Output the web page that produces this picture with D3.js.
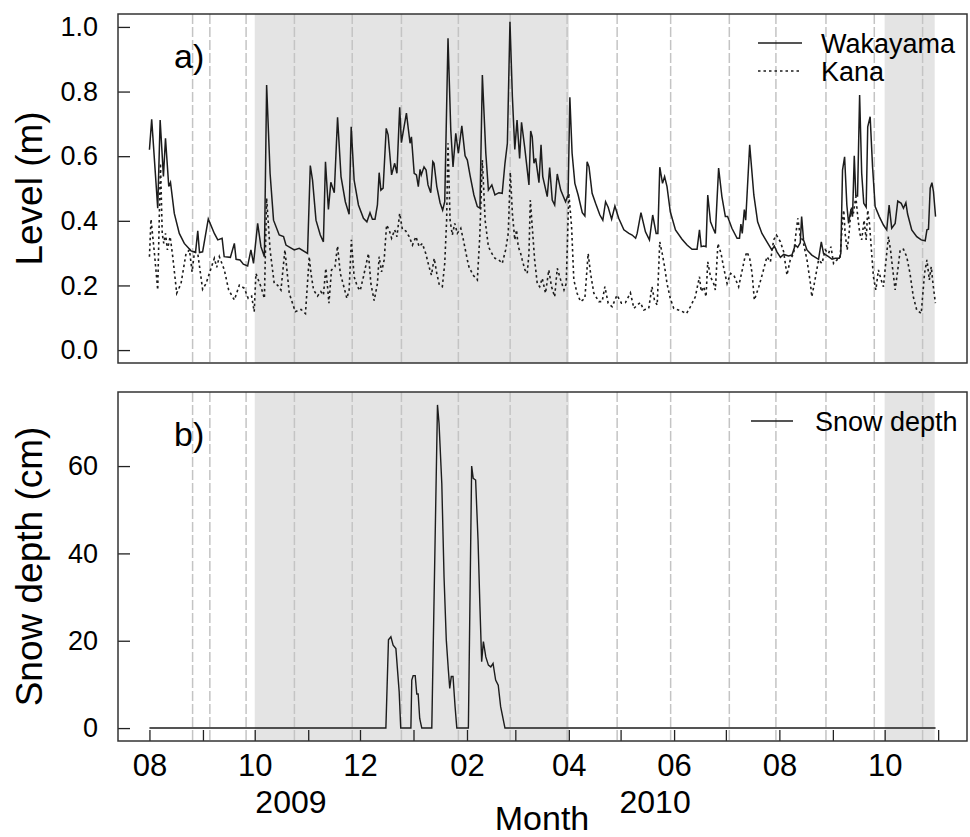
<!DOCTYPE html>
<html>
<head>
<meta charset="UTF-8">
<style>
  body { margin: 0; background: #fff; }
  svg { font-family: "Liberation Sans", Arial, Helvetica, sans-serif; }
</style>
</head>
<body>
<svg width="970" height="837"></svg>
<script src="https://d3js.org/d3.v7.min.js"></script>
<script>

// day counts from 2009-08-01
const t0 = Date.UTC(2009, 7, 1);

// water level (m)
const wakayama = [[0,0.62],[1.3,0.714],[4.8,0.439],[6.2,0.712],[8.1,0.537],[9.3,0.655],[11.2,0.506],[12.2,0.519],[14.4,0.423],[17.3,0.361],[20.2,0.33],[24.1,0.307],[26.7,0.302],[28,0.369],[29,0.302],[30.8,0.304],[34.1,0.406],[37.6,0.361],[39.6,0.341],[42.1,0.346],[43.3,0.289],[46.9,0.287],[49.2,0.33],[50.2,0.281],[52.5,0.279],[54.4,0.266],[56.9,0.26],[58.8,0.31],[60.3,0.268],[62.7,0.392],[64.6,0.32],[66.6,0.289],[67.9,0.82],[69.9,0.547],[71.9,0.402],[75.2,0.356],[77.7,0.351],[79.1,0.325],[83.9,0.31],[86.8,0.315],[91.6,0.299],[93.2,0.571],[94.5,0.526],[96.5,0.402],[99,0.356],[100.8,0.335],[102,0.583],[103.7,0.435],[105.1,0.519],[107.1,0.487],[109,0.72],[111,0.537],[113.5,0.459],[115.7,0.42],[116.9,0.691],[118.6,0.526],[121.1,0.449],[124,0.408],[126,0.397],[127.8,0.425],[129.2,0.405],[130.7,0.405],[132.1,0.449],[133.1,0.549],[134.1,0.495],[135.4,0.501],[137.2,0.686],[138.3,0.666],[140.3,0.542],[142.1,0.578],[143.4,0.547],[145,0.751],[146,0.642],[147.2,0.681],[148.9,0.733],[151,0.64],[151.8,0.66],[153.4,0.547],[154.7,0.542],[155.8,0.506],[156.8,0.559],[157.5,0.542],[159.1,0.567],[160.3,0.557],[161.4,0.511],[163,0.487],[164.2,0.583],[164.9,0.578],[166.5,0.506],[168.4,0.456],[169.9,0.433],[171.1,0.459],[173,0.965],[174.6,0.681],[175.9,0.567],[177.5,0.671],[179,0.609],[181,0.694],[182.9,0.601],[184.2,0.588],[185.8,0.54],[188,0.48],[190,0.444],[191.5,0.439],[192.9,0.851],[194.9,0.609],[196.4,0.495],[198.4,0.511],[200.2,0.48],[202.5,0.487],[204.4,0.485],[206,0.578],[207.4,0.64],[208.9,1.016],[210.3,0.784],[211.7,0.621],[213,0.712],[214.5,0.593],[215.6,0.705],[217.4,0.629],[219.9,0.511],[220.9,0.678],[221.8,0.66],[222.8,0.578],[223.8,0.593],[225.7,0.518],[226.9,0.635],[227.9,0.537],[230.5,0.475],[231.9,0.565],[233.4,0.464],[234.8,0.449],[236.3,0.545],[238.3,0.495],[241.1,0.459],[242.6,0.48],[243.6,0.782],[244.9,0.609],[246.5,0.516],[248.4,0.48],[250.8,0.425],[252.3,0.415],[253.6,0.583],[254.7,0.567],[256.5,0.485],[258.5,0.454],[261,0.418],[262.7,0.402],[264.3,0.459],[265.8,0.442],[267.8,0.405],[269.7,0.446],[271.9,0.408],[274.9,0.372],[277.8,0.361],[279.7,0.356],[281.7,0.346],[282.6,0.361],[284.8,0.425],[287.4,0.366],[289.7,0.341],[291.6,0.418],[293.6,0.361],[294.6,0.361],[295.7,0.566],[297.3,0.516],[298.5,0.537],[299.9,0.506],[301.8,0.428],[304.8,0.372],[308.6,0.343],[311.5,0.325],[314.4,0.312],[317.3,0.312],[318.7,0.372],[319.7,0.32],[321.2,0.322],[322.5,0.32],[323.5,0.48],[325.1,0.397],[326.6,0.377],[327.9,0.361],[329.8,0.563],[331.7,0.475],[333.7,0.413],[335,0.413],[337.5,0.377],[340.5,0.346],[341.9,0.346],[342.7,0.39],[343.5,0.361],[344.7,0.435],[345.5,0.402],[347.8,0.635],[350.2,0.48],[352.4,0.397],[354.9,0.361],[357.8,0.335],[360.6,0.31],[362.1,0.322],[363.6,0.304],[365.6,0.287],[367.5,0.296],[370.3,0.291],[372.3,0.294],[374.2,0.325],[375.6,0.318],[377.1,0.332],[377.9,0.413],[379,0.341],[381,0.31],[383.8,0.294],[387.7,0.281],[389.3,0.335],[390.6,0.299],[393.5,0.289],[395.5,0.281],[397.4,0.284],[399.7,0.284],[400.6,0.299],[401.6,0.557],[402.8,0.598],[404.1,0.449],[405.1,0.392],[406.4,0.433],[407.4,0.413],[408.4,0.601],[409.3,0.477],[410.3,0.477],[411.5,0.789],[412.7,0.547],[413.9,0.454],[415.3,0.442],[416.2,0.691],[417.6,0.722],[419,0.567],[420.5,0.444],[422.9,0.413],[425.3,0.387],[427.2,0.372],[428.6,0.449],[430.1,0.377],[432.1,0.392],[433.6,0.461],[435.6,0.454],[436.9,0.439],[438.3,0.456],[439.3,0.421],[441.7,0.372],[444.6,0.351],[447.2,0.341],[449.5,0.338],[450.5,0.372],[451.4,0.374],[452.4,0.501],[453.4,0.518],[454.3,0.49],[455.5,0.413]];

const kana = [[0,0.289],[0.9,0.405],[2.9,0.299],[4.8,0.186],[5.8,0.433],[6.4,0.578],[7.4,0.361],[8.3,0.33],[9.3,0.361],[10.4,0.31],[12,0.351],[13.5,0.289],[15.8,0.176],[18.3,0.206],[21.2,0.299],[23.2,0.31],[24.7,0.242],[26.1,0.304],[28,0.299],[30.8,0.188],[32.8,0.206],[34.7,0.237],[37.6,0.284],[39,0.256],[40.5,0.289],[43.4,0.248],[45.9,0.186],[49.2,0.155],[52.1,0.201],[55,0.191],[57.2,0.16],[59.2,0.167],[60.7,0.119],[61.7,0.237],[63.1,0.217],[64.6,0.196],[66.6,0.16],[67.9,0.47],[69.9,0.31],[72.3,0.206],[74.2,0.201],[76.2,0.186],[78.5,0.31],[81,0.176],[84.5,0.119],[87.8,0.126],[90.4,0.113],[92.6,0.289],[93.6,0.237],[95.1,0.186],[97.4,0.167],[99.3,0.181],[100.8,0.17],[102.2,0.253],[103.2,0.196],[104,0.145],[105.5,0.248],[107.5,0.258],[109,0.322],[110.6,0.237],[112.9,0.191],[114.4,0.16],[115.7,0.186],[117,0.341],[118.6,0.227],[120.5,0.196],[122.1,0.184],[124,0.227],[126.9,0.299],[128.3,0.206],[130.2,0.153],[132.1,0.206],[133.1,0.289],[134.5,0.242],[136,0.279],[137.4,0.387],[138.9,0.372],[140.3,0.346],[142.1,0.372],[143.4,0.351],[145,0.423],[146.6,0.372],[148.5,0.369],[150.5,0.351],[152.4,0.325],[154.4,0.351],[156.3,0.32],[158.1,0.33],[160.1,0.299],[162,0.258],[163.4,0.232],[165,0.284],[166.5,0.237],[168,0.201],[169.7,0.196],[171.1,0.268],[172.2,0.402],[173,0.64],[174.2,0.402],[175.5,0.356],[176.9,0.392],[178.4,0.361],[180.4,0.377],[181.9,0.341],[184.2,0.279],[185.1,0.258],[187.5,0.232],[190,0.217],[191.4,0.351],[192.9,0.588],[194.5,0.402],[196.4,0.32],[198.4,0.299],[200.2,0.284],[202.5,0.279],[204.4,0.268],[206.4,0.31],[207.9,0.361],[209.1,0.55],[210.3,0.423],[211.7,0.341],[212.7,0.372],[213.7,0.32],[215.1,0.299],[216,0.279],[217.6,0.248],[218.9,0.237],[219.9,0.299],[220.7,0.464],[221.8,0.382],[223.2,0.279],[224.7,0.206],[226.1,0.196],[227.6,0.222],[229.5,0.176],[231.4,0.248],[233,0.196],[234.8,0.165],[236.3,0.253],[238.3,0.217],[240.2,0.186],[241.5,0.206],[243,0.485],[244.6,0.382],[245.9,0.217],[247.8,0.176],[249.8,0.15],[252.3,0.16],[254.2,0.299],[255.6,0.237],[257.5,0.176],[260.4,0.15],[262.3,0.15],[263.9,0.196],[265.8,0.145],[268.1,0.134],[270.9,0.17],[273.5,0.145],[275.8,0.147],[278.7,0.177],[280.7,0.129],[282.6,0.139],[284.5,0.147],[286.4,0.124],[289.3,0.129],[291.2,0.196],[292.6,0.155],[294.2,0.139],[295.7,0.335],[297.1,0.299],[298.5,0.258],[299.9,0.206],[301.8,0.16],[303.8,0.129],[307.7,0.122],[311.2,0.113],[313.4,0.134],[316.3,0.165],[318.7,0.227],[319.7,0.181],[321.2,0.196],[322.5,0.165],[323.5,0.273],[325.1,0.227],[326.9,0.206],[327.9,0.186],[329.4,0.33],[331.2,0.299],[332.8,0.253],[334.7,0.206],[336.7,0.237],[338.6,0.232],[341.4,0.196],[343.9,0.258],[344.9,0.284],[346.2,0.304],[347.8,0.284],[349.2,0.237],[350.5,0.155],[353.1,0.196],[355.5,0.242],[357.8,0.289],[359.8,0.273],[361.7,0.341],[363.3,0.356],[365.6,0.335],[367.5,0.304],[369.4,0.232],[371.3,0.279],[373.3,0.299],[374.6,0.361],[375.7,0.408],[377.1,0.351],[378.6,0.34],[381,0.279],[383,0.206],[383.8,0.165],[385.8,0.222],[387.7,0.279],[389.7,0.268],[391.6,0.31],[393.5,0.299],[394.9,0.32],[396.4,0.268],[398.3,0.279],[400.2,0.284],[401.6,0.402],[402.3,0.433],[403.1,0.361],[404.3,0.31],[405.4,0.361],[406.6,0.444],[407.9,0.423],[409.3,0.475],[410.4,0.413],[411.6,0.361],[412.7,0.341],[414.1,0.402],[415.3,0.341],[416.2,0.433],[417.2,0.392],[418.2,0.32],[419.5,0.227],[420.9,0.186],[422.4,0.248],[424,0.217],[425.3,0.196],[426.6,0.268],[428.2,0.351],[429.4,0.31],[430.5,0.258],[432.1,0.186],[433.6,0.248],[435,0.31],[436.9,0.312],[438.8,0.289],[440.7,0.237],[442.6,0.165],[444.6,0.124],[447.2,0.113],[449.1,0.237],[450.5,0.279],[451.9,0.217],[453,0.258],[454,0.206],[455.4,0.145]];

// snow depth (cm)
const snow = [[0,0],[137,0],[138.5,20.2],[139.9,20.9],[141.2,19],[142.8,18.2],[144.7,8.3],[145.6,0],[151.5,0],[152,11],[152.8,12],[154,12],[154.9,7.8],[155.7,7.8],[156.6,2.2],[157.8,0],[163.6,0],[166.9,74],[167.8,69.8],[169.4,56],[170.7,34.6],[172,20.2],[173.2,13.3],[174,9.1],[174.9,11.8],[175.9,11.8],[177.1,4.9],[178.1,0],[184.8,0],[186.7,60],[187.6,57.2],[189,56.8],[190.4,43],[191.5,27.8],[192.5,15.2],[193.5,19.8],[194.9,16.3],[196.4,14.4],[197.8,14],[199.1,14.8],[200.6,11],[202.1,9.8],[203.5,4.9],[206,0],[455.5,0]];

// winter (shaded) periods and sampling days (dashed lines)
const winters = [["2009-10-01", "2010-04-01"], ["2010-10-01", "2010-10-30"]];
const samplingDays = [25, 35, 56, 84, 117.5, 146, 179, 209, 242, 271, 302, 336, 363, 392, 420, 448];

const levelTicks = [0, 0.2, 0.4, 0.6, 0.8, 1.0];
const snowTicks = [0, 20, 40, 60];
const yearLabels = [["2009", 82], ["2010", 293]];

const toDate = d => new Date(t0 + d * 864e5);

const svg = d3.select("svg");
const left = 118, right = 967;
const ink = "#1c1c1c";

// R style 4% padding on the data range
function pad(lo, hi) { const p = (hi - lo) * 0.04; return [lo - p, hi + p]; }

const dExt = pad(0, d3.max(wakayama, d => d[0]));
const x = d3.scaleUtc().domain([toDate(dExt[0]), toDate(dExt[1])]).range([left, right]);

const panels = [
  { top: 14, bottom: 363, domain: pad(0, 1), ticks: levelTicks, fmt: d3.format(".1f"), title: "Level (m)", tag: "a)" },
  { top: 392, bottom: 741, domain: pad(0, d3.max(snow, d => d[1])), ticks: snowTicks, fmt: d3.format("d"), title: "Snow depth (cm)", tag: "b)" }
];

panels.forEach(p => {
  p.y = d3.scaleLinear().domain(p.domain).range([p.bottom, p.top]);
  const g = svg.append("g");
  p.g = g;

  g.selectAll("rect.winter")
    .data(winters)
    .enter()
    .append("rect")
    .attr("x", d => x(new Date(d[0])))
    .attr("width", d => x(new Date(d[1])) - x(new Date(d[0])))
    .attr("y", p.top)
    .attr("height", p.bottom - p.top)
    .attr("fill", "#e4e4e4");

  g.selectAll("line.samp")
    .data(samplingDays)
    .enter()
    .append("line")
    .attr("x1", d => x(toDate(d)))
    .attr("x2", d => x(toDate(d)))
    .attr("y1", p.top)
    .attr("y2", p.bottom)
    .attr("stroke", "#c4c4c4")
    .attr("stroke-width", 1.5)
    .attr("stroke-dasharray", "10,3");

  // y axis, ticks pointing inward
  const yAxis = g.append("g")
    .attr("transform", `translate(${left},0)`)
    .call(d3.axisLeft(p.y).tickValues(p.ticks).tickFormat(p.fmt).tickSize(-12).tickPadding(20));
  yAxis.select(".domain").remove();
  yAxis.selectAll("line").attr("stroke", "#222").attr("stroke-width", 1.3);
  yAxis.selectAll("text").attr("font-size", 27).attr("fill", "#000").attr("font-family", "Liberation Sans, Arial, sans-serif");

  g.append("text")
    .attr("transform", `translate(42,${(p.top + p.bottom) / 2}) rotate(-90)`)
    .attr("text-anchor", "middle")
    .attr("font-size", 37)
    .text(p.title);

  g.append("text")
    .attr("x", 174)
    .attr("y", p.top + 54)
    .attr("font-size", 34)
    .text(p.tag);
});

const pTop = panels[0], pBot = panels[1];

const line = yS => d3.line().x(d => x(toDate(d[0]))).y(d => yS(d[1]));

pTop.g.append("path")
  .datum(kana)
  .attr("d", line(pTop.y))
  .attr("fill", "none")
  .attr("stroke", ink)
  .attr("stroke-width", 1.6)
  .attr("stroke-dasharray", "2.5,3");

pTop.g.append("path")
  .datum(wakayama)
  .attr("d", line(pTop.y))
  .attr("fill", "none")
  .attr("stroke", ink)
  .attr("stroke-width", 1.5);

pBot.g.append("path")
  .datum(snow)
  .attr("d", line(pBot.y))
  .attr("fill", "none")
  .attr("stroke", ink)
  .attr("stroke-width", 1.4);

// month ticks along the bottom, inward
const months = d3.utcMonth.range(new Date(Date.UTC(2009, 7, 1)), new Date(Date.UTC(2010, 10, 2)));
const xAxis = pBot.g.append("g")
  .attr("transform", `translate(0,${pBot.bottom})`)
  .call(d3.axisBottom(x).tickValues(months)
    .tickFormat(d => d.getUTCMonth() % 2 === 1 ? d3.utcFormat("%m")(d) : "")
    .tickSize(-11).tickPadding(13));
xAxis.select(".domain").remove();
xAxis.selectAll("line").attr("stroke", "#222").attr("stroke-width", 1.3);
xAxis.selectAll("text").attr("font-size", 31).attr("fill", "#000").attr("font-family", "Liberation Sans, Arial, sans-serif");

svg.selectAll("text.year")
  .data(yearLabels)
  .enter()
  .append("text")
  .attr("x", d => x(toDate(d[1])))
  .attr("y", 813)
  .attr("text-anchor", "middle")
  .attr("font-size", 32)
  .text(d => d[0]);

svg.append("text")
  .attr("x", 542)
  .attr("y", 830)
  .attr("text-anchor", "middle")
  .attr("font-size", 34)
  .text("Month");

// frames
panels.forEach(p => {
  p.g.append("rect")
    .attr("x", left)
    .attr("y", p.top)
    .attr("width", right - left)
    .attr("height", p.bottom - p.top)
    .attr("fill", "none")
    .attr("stroke", "#333")
    .attr("stroke-width", 1.5);
});

// legends
const legTop = [["Wakayama", null, 43], ["Kana", "2.5,3", 71]];
legTop.forEach(l => {
  pTop.g.append("line")
    .attr("x1", 758).attr("x2", 802)
    .attr("y1", l[2]).attr("y2", l[2])
    .attr("stroke", ink)
    .attr("stroke-width", 1.4)
    .attr("stroke-dasharray", l[1]);
  pTop.g.append("text")
    .attr("x", 821)
    .attr("y", l[2] + 10)
    .attr("font-size", 27)
    .text(l[0]);
});

pBot.g.append("line")
  .attr("x1", 751).attr("x2", 793)
  .attr("y1", 421).attr("y2", 421)
  .attr("stroke", ink)
  .attr("stroke-width", 1.4);
pBot.g.append("text")
  .attr("x", 815)
  .attr("y", 431)
  .attr("font-size", 27)
  .text("Snow depth");

</script>
</body>
</html>
